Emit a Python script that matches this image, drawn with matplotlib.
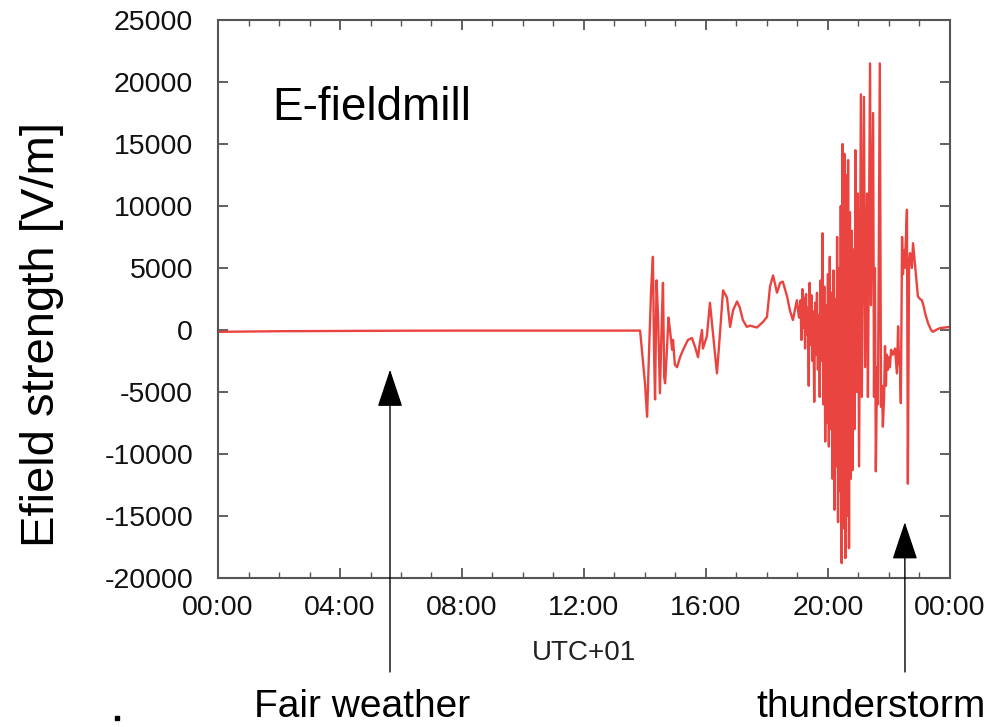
import matplotlib
matplotlib.use("Agg")
import matplotlib.pyplot as plt
from matplotlib.lines import Line2D
from matplotlib.ticker import MultipleLocator, FuncFormatter

plt.rcParams['font.family'] = ['Liberation Sans', 'DejaVu Sans']
plt.rcParams['axes.unicode_minus'] = False

# time in hours (UTC+01) and field strength in V/m
hours_calm = [0.0, 2.0, 4.0, 6.0, 8.0, 10.0, 12.0, 13.84]
field_calm = [-150, -100, -80, -60, -50, -50, -50, -50]

hours_onset = [14.00, 14.07, 14.13, 14.20, 14.26, 14.30, 14.33, 14.38, 14.43,
               14.49, 14.56, 14.59, 14.63, 14.66, 14.72, 14.77, 14.82, 14.89,
               14.92, 14.98, 15.05, 15.15, 15.25, 15.41, 15.54, 15.64, 15.74,
               15.80, 15.87, 15.90, 16.03, 16.13, 16.23, 16.36, 16.46, 16.56,
               16.69, 16.79, 16.89, 17.02, 17.11, 17.21, 17.34, 17.44, 17.67,
               17.87, 18.00, 18.10, 18.20, 18.33, 18.43, 18.52, 18.66, 18.75,
               18.85, 18.98, 19.05]
field_onset = [-4300, -7000, -2000, 3200, 5900, -2000, -5600, 4000, 1000,
               -5100, 1600, 3800, -3800, -4300, -1600, 1000, 0, -1600,
               -800, -2800, -3000, -2200, -1600, -800, -650, -1350, -2200,
               -1000, 0, -1500, -500, 2200, -250, -3500, -250, 3200,
               2600, 250, 1600, 2300, 1800, 800, 250, 350, 200,
               650, 1050, 3500, 4400, 3000, 3800, 3900, 2700, 1600,
               800, 2400, 1000]

hours_storm = [19.10, 19.13, 19.16, 19.19, 19.22, 19.25, 19.28, 19.31, 19.34,
               19.37, 19.40, 19.43, 19.46, 19.49, 19.52, 19.55, 19.58, 19.61,
               19.64, 19.67, 19.70, 19.73, 19.76, 19.79, 19.82, 19.85, 19.88,
               19.91, 19.94, 19.97, 20.00, 20.03, 20.06, 20.09, 20.12, 20.15,
               20.18, 20.21, 20.24, 20.27, 20.30, 20.33, 20.36, 20.39, 20.42,
               20.45, 20.48, 20.51, 20.54, 20.57, 20.60, 20.63, 20.66, 20.69,
               20.72, 20.75, 20.78, 20.81, 20.84, 20.87, 20.90, 20.95, 20.98,
               21.02, 21.08, 21.11, 21.18, 21.22, 21.28, 21.31, 21.38, 21.41,
               21.48, 21.51, 21.54, 21.57, 21.61, 21.64, 21.70, 21.74, 21.77,
               21.80, 21.84, 21.87, 21.90, 21.93, 21.97, 22.00, 22.03, 22.07,
               22.13, 22.20, 22.26, 22.30, 22.33, 22.36, 22.39, 22.43, 22.46,
               22.49, 22.52, 22.59, 22.62, 22.66, 22.69, 22.75, 22.79, 22.85,
               22.92, 22.95, 23.02, 23.08, 23.15, 23.18, 23.28, 23.38, 23.44,
               23.54, 23.67, 24.00]
field_storm = [2400, -800, 3300, 200, 2600, -1500, 2900, -400, 1800,
               -4500, 3800, -1200, 2800, -2500, 1500, -5800, 2200, -2000,
               3000, -3200, 1200, -5400, 4000, -2500, 7800, -6000, 3500,
               -9000, 2000, -7500, 4500, -9400, 5900, -8000, 3000, -12000,
               4800, -14500, 2500, -11000, 7500, -15500, 5000, -13000, 10000,
               -18800, 15000, -16000, 14200, -18400, 12500, -15000, 13700, -17600,
               9500, -12000, 8000, -11300, 6500, -8000, 14500, -5000, 11000,
               -11000, 19000, -5400, 18800, -3000, 11000, -5400, 21500, 2000,
               17500, -5400, 5000, -11400, -3000, -6000, 21500, -6200, -4500,
               -7800, -5500, -1300, -4500, -2000, -3200, -2200, -3000, -1600,
               -2000, -1500, -3500, 300, -2500, -3000, -5900, 7500, 4500,
               6400, 5000, 9700, -12400, 5500, 6200, 5000, 7000, 5400,
               3500, 2700, 2500, 2400, 1800, 1400, 560, 0, -150,
               0, 150, 250]

hours = hours_calm + hours_onset + hours_storm
field = field_calm + field_onset + field_storm

fig = plt.figure(figsize=(10.01, 7.27), dpi=100)
ax = fig.add_axes([0.2178, 0.205, 0.7312, 0.7675])

ax.plot(hours, field, color='#e8302c', lw=1.7, alpha=0.9)

ax.set_xlim(0, 24)
ax.set_ylim(-20000, 25000)
ax.xaxis.set_major_locator(MultipleLocator(4))
ax.xaxis.set_minor_locator(MultipleLocator(1))
ax.yaxis.set_major_locator(MultipleLocator(5000))
ax.xaxis.set_major_formatter(FuncFormatter(lambda v, p: "%02d:00" % (int(v) % 24)))
ax.tick_params(which='both', direction='in', top=True, right=True,
               labelsize=20.5, colors='#555555', labelcolor='#111111')
ax.tick_params(axis='y', which='major', length=7, width=1.3, pad=18)
ax.tick_params(axis='x', which='major', length=7, width=1.3, pad=12)
ax.tick_params(which='minor', length=4, width=1.0)
for s in ax.spines.values():
    s.set_color('#555555')
    s.set_linewidth(1.5)

ax.set_xlabel("UTC+01", fontsize=20, color='#222222', labelpad=14)
fig.text(0.042, 0.54, "Efield strength [V/m]", rotation=90, fontsize=34,
         ha='center', va='center')
ax.text(0.0745, 0.82, "E-fieldmill", transform=ax.transAxes, fontsize=33,
        ha='left', va='baseline')

# arrows from the captions up into the plot
head = '-|>,head_length=2.4,head_width=0.8'
ax.annotate("", xy=(5.64, -3200), xytext=(390 / 1001, 1 - 672 / 727),
            textcoords='figure fraction', annotation_clip=False,
            arrowprops=dict(arrowstyle=head, color='black', lw=1.0,
                            shrinkA=0, shrinkB=0))
ax.annotate("", xy=(22.52, -15500), xytext=(905 / 1001, 1 - 672 / 727),
            textcoords='figure fraction', annotation_clip=False,
            arrowprops=dict(arrowstyle=head, color='black', lw=1.0,
                            shrinkA=0, shrinkB=0))
fig.text(362 / 1001, 0.014, "Fair weather", fontsize=28, ha='center', va='baseline')
fig.text(871 / 1001, 0.014, "thunderstorm", fontsize=28, ha='center', va='baseline')
fig.add_artist(Line2D([117 / 1001], [1 - 718 / 727], marker='s', markersize=3.5,
                      color='black', transform=fig.transFigure))

fig.savefig("out.png", dpi=100)
